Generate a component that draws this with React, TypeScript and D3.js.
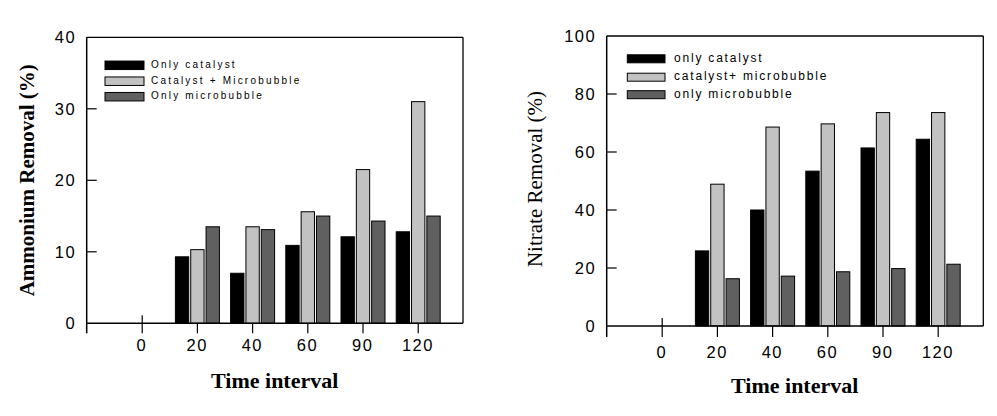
import React from "react";
import * as d3 from "d3";

const categories = ["0", "20", "40", "60", "90", "120"];

const seriesLeftNames = ["Only catalyst", "Catalyst + Microbubble", "Only microbubble"];
const ammoniumOnlyCatalyst = [0, 9.3, 7.0, 10.9, 12.1, 12.8];
const ammoniumCatalystMB = [0, 10.3, 13.5, 15.6, 21.5, 31.0];
const ammoniumOnlyMB = [0, 13.5, 13.1, 15.0, 14.3, 15.0];
const leftYTicks = [0, 10, 20, 30, 40];

const seriesRightNames = ["only catalyst", "catalyst+ microbubble", "only microbubble"];
const nitrateOnlyCatalyst = [0, 25.9, 40.0, 53.4, 61.4, 64.4];
const nitrateCatalystMB = [0, 48.9, 68.6, 69.7, 73.6, 73.6];
const nitrateOnlyMB = [0, 16.3, 17.2, 18.7, 19.8, 21.3];
const rightYTicks = [0, 20, 40, 60, 80, 100];

const colors = ["#000000", "#c2c2c2", "#606060"];

const sans = "'Liberation Sans', Arial, sans-serif";
const serif = "'Liberation Serif', 'Times New Roman', serif";

const TICK_FS = 16.5;
const TICK_LS = 1.5;

type PanelProps = {
  x0: number; y0: number; w: number; h: number;
  yMax: number; yTicks: number[];
  series: number[][]; names: string[];
  yTitle: string; yTitleX: number; yTitleBold: boolean; yTitleFs: number;
  xTitleY: number; tickLabelY: number; axisExt: number;
  legend: { x: number; rows: number[]; boxW: number; boxH: number; textX: number; fs: number; ls: number };
};

function Panel(p: PanelProps) {
  const y = d3.scaleLinear().domain([0, p.yMax]).range([p.y0 + p.h, p.y0]);
  const x = d3.scalePoint<string>().domain(categories).range([p.x0 + 55.5, p.x0 + 331.5]);
  const inner = d3.scaleBand<number>().domain([0, 1, 2]).range([-22, 22]).paddingInner(0.13);
  const bottom = p.y0 + p.h;
  const right = p.x0 + p.w;
  return (
    <g>
      {p.series.map((vals, si) =>
        vals.map((v, ci) =>
          v > 0 ? (
            <rect key={`b${si}-${ci}`}
              x={(x(categories[ci]) as number) + (inner(si) as number)}
              y={y(v)} width={inner.bandwidth()} height={bottom - y(v)}
              fill={colors[si]} stroke="#000" strokeWidth={1} />
          ) : null
        )
      )}
      {/* frame */}
      <line x1={p.x0} x2={right} y1={p.y0} y2={p.y0} stroke="#000" strokeWidth={1.3} />
      <line x1={right} x2={right} y1={p.y0} y2={bottom} stroke="#000" strokeWidth={1.3} />
      <line x1={p.x0} x2={right} y1={bottom} y2={bottom} stroke="#000" strokeWidth={1.5} />
      <line x1={p.x0} x2={p.x0} y1={p.y0} y2={bottom + p.axisExt} stroke="#000" strokeWidth={1.5} />
      {/* y ticks */}
      {p.yTicks.map((t) => (
        <g key={`yt${t}`}>
          {t > 0 && t < p.yMax ? (
            <line x1={p.x0} x2={p.x0 + 10} y1={y(t)} y2={y(t)} stroke="#000" strokeWidth={1.2} />
          ) : null}
          <text x={p.x0 - 12 + TICK_LS} y={y(t) + 6} textAnchor="end"
            fontFamily={sans} fontSize={TICK_FS} letterSpacing={TICK_LS} fill="#000">{t}</text>
        </g>
      ))}
      {/* x ticks */}
      {categories.map((c, i) => (
        <g key={`xt${c}`}>
          <line x1={x(c)} x2={x(c)} y1={i === 0 ? bottom - 8 : bottom} y2={bottom + p.axisExt}
            stroke="#000" strokeWidth={1.2} />
          <text x={(x(c) as number) + TICK_LS / 2 - 1} y={p.tickLabelY} textAnchor="middle"
            fontFamily={sans} fontSize={TICK_FS} letterSpacing={TICK_LS} fill="#000">{c}</text>
        </g>
      ))}
      {/* titles */}
      <text x={p.x0 + 188} y={p.xTitleY} textAnchor="middle" fontFamily={serif}
        fontWeight="bold" fontSize={22} fill="#000">Time interval</text>
      <text transform={`translate(${p.yTitleX},${p.y0 + 143}) rotate(-90)`} textAnchor="middle"
        dominantBaseline="middle" fontFamily={serif} fontWeight={p.yTitleBold ? "bold" : "normal"}
        fontSize={p.yTitleFs} fill="#000">{p.yTitle}</text>
      {/* legend */}
      {p.names.map((n, i) => (
        <g key={`lg${i}`}>
          <rect x={p.legend.x} y={p.legend.rows[i] - p.legend.boxH / 2} width={p.legend.boxW}
            height={p.legend.boxH} fill={colors[i]} stroke="#000" strokeWidth={1} />
          <text x={p.legend.textX} y={p.legend.rows[i]} dominantBaseline="middle"
            fontFamily={sans} fontSize={p.legend.fs} letterSpacing={p.legend.ls} fill="#000">{n}</text>
        </g>
      ))}
    </g>
  );
}

export default function App() {
  return (
    <svg width={997} height={416} style={{ position: "absolute", left: 0, top: 0, background: "#fff" }}>
      <rect width={997} height={416} fill="#fff" />
      <Panel x0={86.7} y0={37.3} w={376.3} h={286} yMax={40} yTicks={leftYTicks}
        series={[ammoniumOnlyCatalyst, ammoniumCatalystMB, ammoniumOnlyMB]} names={seriesLeftNames}
        yTitle="Ammonium Removal (%)" yTitleX={29} yTitleBold={true} yTitleFs={21}
        xTitleY={388} tickLabelY={350.5} axisExt={10}
        legend={{ x: 105, rows: [65.3, 81.2, 96.7], boxW: 39, boxH: 8.5, textX: 151, fs: 10, ls: 2.2 }} />
      <Panel x0={606.7} y0={36} w={376.6} h={290} yMax={100} yTicks={rightYTicks}
        series={[nitrateOnlyCatalyst, nitrateCatalystMB, nitrateOnlyMB]} names={seriesRightNames}
        yTitle="Nitrate Removal (%)" yTitleX={537} yTitleBold={false} yTitleFs={21}
        xTitleY={393} tickLabelY={357.5} axisExt={11}
        legend={{ x: 627.3, rows: [58.8, 77.2, 94.7], boxW: 37.7, boxH: 8, textX: 674, fs: 12, ls: 1.8 }} />
    </svg>
  );
}
